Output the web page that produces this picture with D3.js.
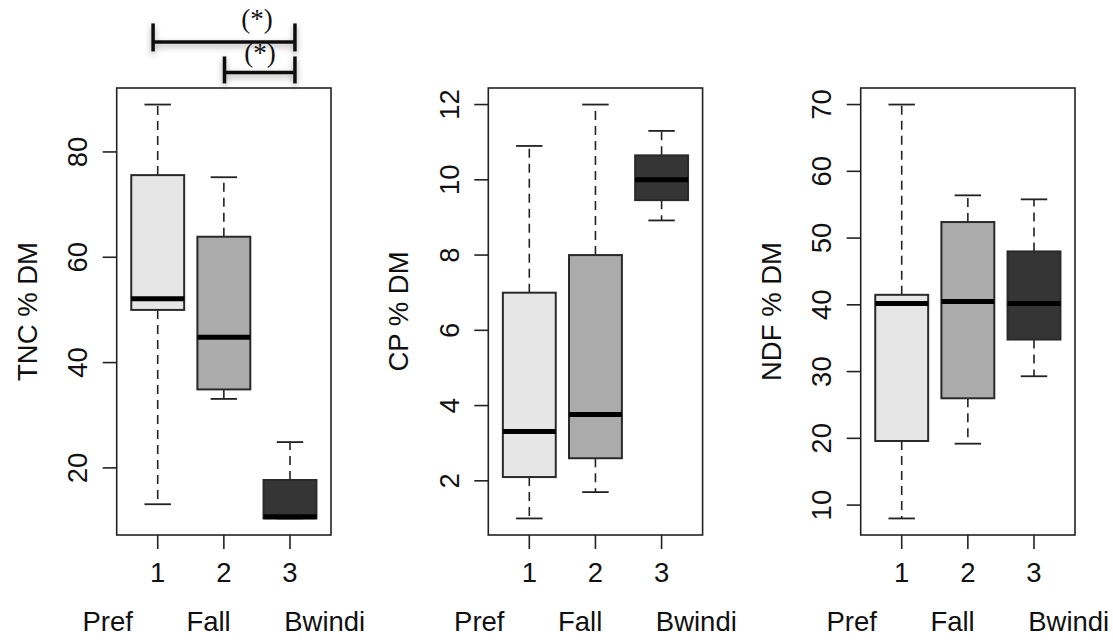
<!DOCTYPE html>
<html>
<head>
<meta charset="utf-8">
<script src="https://cdn.jsdelivr.net/npm/d3@7"></script>
<style>
  html, body { margin: 0; padding: 0; background: #ffffff; }
  svg { display: block; }
  text { font-family: "Liberation Sans", Arial, Helvetica, sans-serif; fill: #111; }
</style>
</head>
<body>
<svg id="chart" width="1113" height="640"></svg>
<script>
// ---------- DATA ----------
const categories = ["1", "2", "3"];
const groupNames = ["Pref", "Fall", "Bwindi"];
const boxFills = ["#e6e6e6", "#ababab", "#353535"];

// TNC % DM
const tncLow  = [13.1, 33.1, 10.4];
const tncQ1   = [50.0, 34.9, 10.4];
const tncMed  = [52.1, 44.8, 10.7];
const tncQ3   = [75.6, 63.9, 17.7];
const tncHigh = [89.0, 75.2, 24.9];
const tncTicks = [20, 40, 60, 80];

// CP % DM
const cpLow  = [1.0, 1.7, 8.92];
const cpQ1   = [2.1, 2.6, 9.46];
const cpMed  = [3.31, 3.76, 10.0];
const cpQ3   = [7.0, 8.0, 10.65];
const cpHigh = [10.9, 12.0, 11.3];
const cpTicks = [2, 4, 6, 8, 10, 12];

// NDF % DM
const ndfLow  = [8.0, 19.2, 29.3];
const ndfQ1   = [19.6, 26.0, 34.8];
const ndfMed  = [40.2, 40.5, 40.2];
const ndfQ3   = [41.5, 52.4, 48.0];
const ndfHigh = [70.0, 56.4, 55.8];
const ndfTicks = [10, 20, 30, 40, 50, 60, 70];

// significance brackets on the TNC panel (x in group units, y in TNC units)
const sigFrom  = [0.93, 2.01];
const sigTo    = [3.075, 3.075];
const sigLevel = [100.9, 95.1];
const sigLabel = ["(*)", "(*)"];

const panels = [
  { title: "TNC % DM", low: tncLow, q1: tncQ1, med: tncMed, q3: tncQ3, high: tncHigh, ticks: tncTicks, sig: true },
  { title: "CP % DM",  low: cpLow,  q1: cpQ1,  med: cpMed,  q3: cpQ3,  high: cpHigh,  ticks: cpTicks,  sig: false },
  { title: "NDF % DM", low: ndfLow, q1: ndfQ1, med: ndfMed, q3: ndfQ3, high: ndfHigh, ticks: ndfTicks, sig: false }
];

// ---------- LAYOUT ----------
const svg = d3.select("#chart");
const panelLefts = [116.7, 488.3, 860.7];
const plotW = 214.3;
const plotTop = 88, plotBottom = 535;
const fontSize = 27.5;

const defs = svg.append("defs");
const f = defs.append("filter").attr("id", "shadow").attr("x", "-20%").attr("y", "-50%").attr("width", "140%").attr("height", "200%");
f.append("feDropShadow").attr("dx", 0).attr("dy", 3).attr("stdDeviation", 3)
  .attr("flood-color", "#000").attr("flood-opacity", 0.35);

panels.forEach((p, pi) => {
  const left = panelLefts[pi];
  const right = left + plotW;
  const allVals = [...p.low, ...p.high];
  const lo = d3.min(allVals), hi = d3.max(allVals);
  const pad = (hi - lo) * 0.04;
  const y = d3.scaleLinear().domain([lo - pad, hi + pad]).range([plotBottom, plotTop]);
  const x = d3.scaleLinear().domain([0.38, 3.62]).range([left, right]);
  const boxW = x(0.8) - x(0);
  const stapleW = boxW / 2;

  const g = svg.append("g");

  // Boxes
  categories.forEach((c, i) => {
    const cx = x(i + 1);
    const bg = g.append("g");
    // whiskers (dashed)
    bg.append("line").attr("x1", cx).attr("x2", cx)
      .attr("y1", y(p.q3[i])).attr("y2", y(p.high[i]))
      .attr("stroke", "#222").attr("stroke-width", 1.6).attr("stroke-dasharray", "9,6");
    bg.append("line").attr("x1", cx).attr("x2", cx)
      .attr("y1", y(p.q1[i])).attr("y2", y(p.low[i]))
      .attr("stroke", "#222").attr("stroke-width", 1.6).attr("stroke-dasharray", "9,6");
    // staples
    [p.high[i], p.low[i]].forEach(v => {
      bg.append("line").attr("x1", cx - stapleW / 2).attr("x2", cx + stapleW / 2)
        .attr("y1", y(v)).attr("y2", y(v))
        .attr("stroke", "#222").attr("stroke-width", 1.8);
    });
    // box
    bg.append("rect")
      .attr("x", cx - boxW / 2).attr("width", boxW)
      .attr("y", y(p.q3[i])).attr("height", y(p.q1[i]) - y(p.q3[i]))
      .attr("fill", boxFills[i]).attr("stroke", "#2a2a2a").attr("stroke-width", 2);
    // median
    bg.append("line").attr("x1", cx - boxW / 2).attr("x2", cx + boxW / 2)
      .attr("y1", y(p.med[i])).attr("y2", y(p.med[i]))
      .attr("stroke", "#000").attr("stroke-width", 5);
  });

  // Frame
  g.append("rect").attr("x", left).attr("y", plotTop)
    .attr("width", plotW).attr("height", plotBottom - plotTop)
    .attr("fill", "none").attr("stroke", "#222").attr("stroke-width", 1.6);

  // Y axis ticks
  p.ticks.forEach(t => {
    g.append("line").attr("x1", left - 14).attr("x2", left)
      .attr("y1", y(t)).attr("y2", y(t))
      .attr("stroke", "#222").attr("stroke-width", 1.6);
    g.append("text")
      .attr("transform", `translate(${left - 29.5},${y(t)}) rotate(-90)`)
      .attr("text-anchor", "middle")
      .style("font-size", fontSize + "px")
      .text(t);
  });

  // X axis ticks
  categories.forEach((c, i) => {
    const cx = x(i + 1);
    g.append("line").attr("x1", cx).attr("x2", cx)
      .attr("y1", plotBottom).attr("y2", plotBottom + 14)
      .attr("stroke", "#222").attr("stroke-width", 1.6);
    g.append("text").attr("x", cx).attr("y", 582)
      .attr("text-anchor", "middle")
      .style("font-size", fontSize + "px")
      .text(c);
  });

  // Y title
  g.append("text")
    .attr("transform", `translate(${left - 80},${(plotTop + plotBottom) / 2}) rotate(-90)`)
    .attr("text-anchor", "middle")
    .style("font-size", fontSize + "px")
    .text(p.title);

  // X label (group names)
  g.append("text")
    .attr("x", (left + right) / 2).attr("y", 631)
    .attr("text-anchor", "middle")
    .attr("xml:space", "preserve")
    .style("white-space", "pre")
    .style("font-size", fontSize + "px")
    .text(groupNames.join("       "));

  // Significance brackets
  if (p.sig) {
    sigFrom.forEach((s, k) => {
      const x1 = x(s), x2 = x(sigTo[k]), yy = y(sigLevel[k]);
      const sg = g.append("g").attr("filter", "url(#shadow)");
      sg.append("line").attr("x1", x1).attr("x2", x2).attr("y1", yy).attr("y2", yy)
        .attr("stroke", "#111").attr("stroke-width", 3.5);
      [x1, x2].forEach(xx => {
        sg.append("line").attr("x1", xx).attr("x2", xx)
          .attr("y1", yy - (k === 0 ? 18.5 : 16)).attr("y2", yy + (k === 0 ? 9.5 : 11))
          .attr("stroke", "#111").attr("stroke-width", 3.5);
      });
      g.append("text")
        .attr("x", x(sigTo[k]) - (k === 0 ? 38 : 35)).attr("y", yy - (k === 0 ? 13.5 : 10.5))
        .attr("text-anchor", "middle")
        .style("font-family", "'Liberation Serif', 'Times New Roman', serif")
        .style("font-size", "27px")
        .text(sigLabel[k]);
    });
  }
});
</script>
</body>
</html>
